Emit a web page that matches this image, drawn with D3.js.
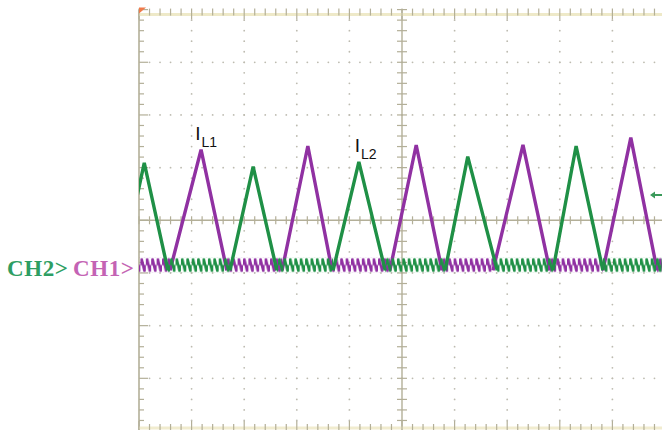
<!DOCTYPE html>
<html>
<head>
    <meta charset="utf-8">
    <script src="https://cdn.jsdelivr.net/npm/d3@7"></script>
    <style>
        body { margin: 0; background: #fff; }
        svg { display: block; }
        .ch { font-family: "Liberation Serif", "Times New Roman", serif; font-weight: bold; font-size: 23px; letter-spacing: 0.6px; }
        .lbl { font-family: "Liberation Sans", Arial, sans-serif; fill: #111; }
    </style>
</head>
<body>
    <svg id="svg" width="662" height="430"></svg>
    <script>
        // screen in divisions: 10 x 8, values relative to centre line
        var baseLevel = -0.85, valleyLevel = -0.95;

        // CH1 (I_L1, purple) triangles: rise start, peak time, fall end, peak value
        var ch1Rise = [0.59, 2.72, 4.77, 6.73, 8.82];
        var ch1PeakT = [1.18, 3.21, 5.27, 7.30, 9.35];
        var ch1Fall = [1.67, 3.67, 5.76, 7.81, 9.85];
        var ch1PeakV = [1.34, 1.41, 1.43, 1.43, 1.57];

        // CH2 (I_L2, green)
        var ch2Rise = [-0.34, 1.73, 3.69, 5.82, 7.87];
        var ch2PeakT = [0.10, 2.17, 4.18, 6.25, 8.31];
        var ch2Fall = [0.55, 2.62, 4.68, 6.81, 8.82];
        var ch2PeakV = [1.09, 1.02, 1.11, 1.21, 1.41];

        var triggerLevel = 0.48;
        var labels = [{ main: "I", sub: "L1", t: 1.07, v: 1.53 }, { main: "I", sub: "L2", t: 4.10, v: 1.30 }];

        var purple = "#9031a2", green = "#1f9046";

        var svg = d3.select("#svg");
        var x = d3.scaleLinear().domain([0, 10]).range([139, 665]);
        var y = d3.scaleLinear().domain([-4, 4]).range([431, 9.6]);
        var grid = "#b3af98";

        var defs = svg.append("defs");
        defs.append("clipPath").attr("id", "plot").append("rect")
            .attr("x", x(0)).attr("y", y(4)).attr("width", x(10) - x(0)).attr("height", y(-4) - y(4));

        function ripplePattern(id, color, shift) {
            var p = defs.append("pattern").attr("id", id).attr("patternUnits", "userSpaceOnUse")
                .attr("width", 5.4).attr("height", 15).attr("x", shift).attr("y", y(baseLevel) - 7.5);
            p.append("path").attr("d", "M0,7.5 L1.35,1.8 L4.05,13.2 L5.4,7.5")
                .attr("fill", "none").attr("stroke", color).attr("stroke-width", 2.6).attr("stroke-linejoin", "round");
        }
        ripplePattern("rip1", purple, 0);
        ripplePattern("rip2", green, 2.7);

        // ---- graticule
        var g = svg.append("g");
        var fine = d3.range(-4, 4.001, 0.2);
        var fineX = d3.range(0, 10.001, 0.2);

        [1, 2, 3, 4, 6, 7, 8, 9].forEach(function (i) {
            g.selectAll(null).data(fine.slice(1, -1)).enter().append("circle")
                .attr("cx", x(i)).attr("cy", function (d) { return y(d); }).attr("r", 0.9).attr("fill", "#bdbbb0");
        });
        [-3, -2, -1, 1, 2, 3].forEach(function (j) {
            g.selectAll(null).data(fineX.slice(1, -1)).enter().append("circle")
                .attr("cx", function (d) { return x(d); }).attr("cy", y(j)).attr("r", 0.9).attr("fill", "#bdbbb0");
        });

        // centre lines
        g.append("line").attr("x1", x(0)).attr("x2", x(10)).attr("y1", y(0)).attr("y2", y(0)).attr("stroke", grid).attr("stroke-width", 1.4);
        g.append("line").attr("x1", x(5)).attr("x2", x(5)).attr("y1", y(-4)).attr("y2", y(4)).attr("stroke", grid).attr("stroke-width", 1.4);
        g.selectAll(null).data(fineX).enter().append("line")
            .attr("x1", function (d) { return x(d); }).attr("x2", function (d) { return x(d); })
            .attr("y1", y(0) - 4).attr("y2", y(0) + 4).attr("stroke", grid).attr("stroke-width", 1.2);
        g.selectAll(null).data(fine).enter().append("line")
            .attr("y1", function (d) { return y(d); }).attr("y2", function (d) { return y(d); })
            .attr("x1", x(5) - 5).attr("x2", x(5) + 5).attr("stroke", grid).attr("stroke-width", 1.2);

        // border
        g.append("line").attr("x1", x(0)).attr("x2", x(0)).attr("y1", y(-4)).attr("y2", y(4)).attr("stroke", grid).attr("stroke-width", 1.6);
        g.append("line").attr("x1", x(0)).attr("x2", x(10)).attr("y1", y(4) + 5).attr("y2", y(4) + 5).attr("stroke", "#eee9c8").attr("stroke-width", 3);
        g.append("line").attr("x1", x(0)).attr("x2", x(10)).attr("y1", y(-4) - 3).attr("y2", y(-4) - 3).attr("stroke", "#f1eccf").attr("stroke-width", 3);
        function isMajor(d) { return Math.abs(d - Math.round(d)) < 0.01; }
        g.selectAll(null).data(fine).enter().append("line")
            .attr("y1", function (d) { return y(d); }).attr("y2", function (d) { return y(d); })
            .attr("x1", x(0)).attr("x2", function (d) { return x(0) + (isMajor(d) ? 9 : 5); })
            .attr("stroke", grid).attr("stroke-width", 1.2);
        g.selectAll(null).data(fineX).enter().append("line")
            .attr("x1", function (d) { return x(d); }).attr("x2", function (d) { return x(d); })
            .attr("y1", y(4) - 1).attr("y2", function (d) { return y(4) + (isMajor(d) ? 10 : 6); })
            .attr("stroke", grid).attr("stroke-width", 1.2);
        g.selectAll(null).data(fineX).enter().append("line")
            .attr("x1", function (d) { return x(d); }).attr("x2", function (d) { return x(d); })
            .attr("y1", y(-4)).attr("y2", function (d) { return y(-4) - (isMajor(d) ? 10 : 7); })
            .attr("stroke", grid).attr("stroke-width", 1.2);

        // marker top-left
        svg.append("path").attr("d", "M" + x(0) + "," + (y(4) - 2) + " l7,0 l-7,6 z").attr("fill", "#f07a4a");

        // ---- traces
        var traces = svg.append("g").attr("clip-path", "url(#plot)");
        var line = d3.line().x(function (d) { return x(d[0]); }).y(function (d) { return y(d[1]); });

        function drawTrace(rise, peakT, fall, peakV, color, pat) {
            var off = [[0, rise[0]]];
            for (var i = 0; i < rise.length - 1; i++) off.push([fall[i], rise[i + 1]]);
            off.push([fall[fall.length - 1], 10]);
            off = off.filter(function (d) { return d[1] > d[0]; });

            traces.selectAll(null).data(off).enter().append("rect")
                .attr("x", function (d) { return x(d[0]); })
                .attr("width", function (d) { return x(d[1]) - x(d[0]); })
                .attr("y", y(baseLevel) - 7.5).attr("height", 15)
                .attr("fill", "url(#" + pat + ")");

            var tri = rise.map(function (r, i) {
                return [[r, valleyLevel], [peakT[i], peakV[i]], [fall[i], valleyLevel]];
            });
            traces.selectAll(null).data(tri).enter().append("path")
                .attr("d", line).attr("fill", "none").attr("stroke", color)
                .attr("stroke-width", 3.4).attr("stroke-linejoin", "miter");
        }
        drawTrace(ch1Rise, ch1PeakT, ch1Fall, ch1PeakV, purple, "rip1");
        drawTrace(ch2Rise, ch2PeakT, ch2Fall, ch2PeakV, green, "rip2");

        // trigger level arrow
        var ty = y(triggerLevel);
        svg.append("path").attr("d", "M650," + ty + " l5,-3.5 l0,2.5 l7,0 l0,2 l-7,0 l0,2.5 z").attr("fill", "#3a9a5a");

        // channel labels
        svg.append("text").attr("class", "ch").attr("x", 7).attr("y", y(baseLevel) + 10.5).attr("fill", "#2e9e63").text("CH2>");
        svg.append("text").attr("class", "ch").attr("x", 73).attr("y", y(baseLevel) + 10.5).attr("fill", "#c463b4").text("CH1>");

        // I_L labels
        labels.forEach(function (l) {
            var t = svg.append("text").attr("class", "lbl").attr("x", x(l.t)).attr("y", y(l.v));
            t.append("tspan").attr("font-size", 19).text(l.main);
            t.append("tspan").attr("font-size", 14).attr("dx", 1).attr("dy", 7).text(l.sub);
        });
    </script>
</body>
</html>
